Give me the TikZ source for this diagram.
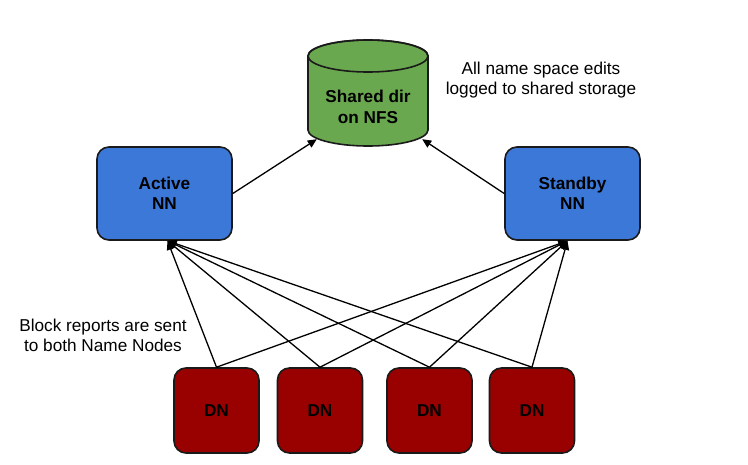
\documentclass[tikz,border=0pt]{standalone}
\usepackage{fontspec}
\setmainfont{Liberation Sans}
\usetikzlibrary{arrows.meta}
\definecolor{nnblue}{HTML}{3C78D8}
\definecolor{nfsgreen}{HTML}{6AA84F}
\definecolor{dnred}{HTML}{990000}
\definecolor{edge}{HTML}{1A1A1A}
\begin{document}
\begin{tikzpicture}[x=1pt,y=-1pt,
	nnbox/.style={draw=edge,line width=1.6,fill=nnblue,rounded corners=12,minimum width=135,minimum height=93,align=center,font=\fontsize{17.2}{20}\selectfont\bfseries},
	dnbox/.style={draw=edge,line width=1.6,fill=dnred,rounded corners=12,minimum width=85,minimum height=85,font=\fontsize{17.2}{20}\selectfont\bfseries},
	note/.style={align=center,font=\fontsize{17.2}{20}\selectfont},
	link/.style={line width=1.3,-{Triangle[length=9,width=8]}}]
			\useasboundingbox (0,0) rectangle (748,464);
			%storage
			\filldraw[fill=nfsgreen,draw=edge,line width=1.6] (308,56) -- (308,130) arc[start angle=180,end angle=0,x radius=60,y radius=16] -- (428,56) arc[start angle=0,end angle=-180,x radius=60,y radius=16] -- cycle;
			\draw[draw=edge,line width=1.6] (368,56) ellipse[x radius=60,y radius=16];
			\node[minimum width=120,minimum height=64,align=center,font=\fontsize{17.2}{21}\selectfont\bfseries] (nfs) at (368,107) {Shared dir\\on NFS};
			\node[note] (edits) at (541,80) {All name space edits\\logged to shared storage};
			%name nodes
			\node[nnbox] (active) at (164.5,193.5) {Active\\NN};
			\node[nnbox] (standby) at (572.5,193.5) {Standby\\NN};
			%data nodes
			\node[dnbox] (dn1) at (216.5,410.5) {DN};
			\node[dnbox] (dn2) at (320,410.5) {DN};
			\node[dnbox] (dn3) at (429.5,410.5) {DN};
			\node[dnbox] (dn4) at (532,410.5) {DN};
			\node[note] (reports) at (103,335) {Block reports are sent\\to both Name Nodes};
			%edits
			\draw[link] (active.east) -- ([xshift=9]nfs.south west);
			\draw[link] (standby.west) -- ([xshift=-6]nfs.south east);
			%block reports
			\foreach \d in {dn1,dn2,dn3,dn4}{
				\draw[link] (\d.north) -- ([xshift=3]active.south);
				\draw[link] (\d.north) -- ([xshift=-5]standby.south);
			}
\end{tikzpicture}
\end{document}
